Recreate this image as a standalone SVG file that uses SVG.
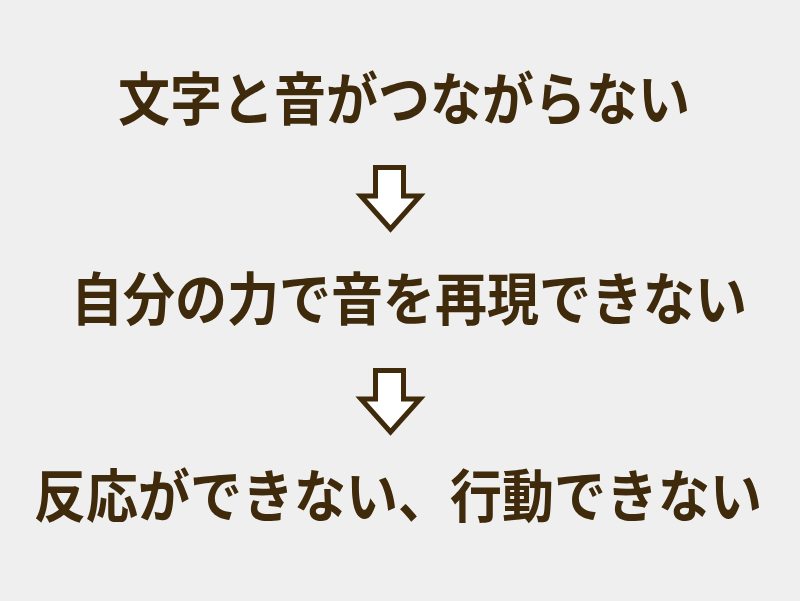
<svg xmlns="http://www.w3.org/2000/svg" width="800" height="601" viewBox="0 0 800 601">
<style>
.t{font-family:"Noto Sans CJK JP","Noto Sans CJK SC",sans-serif;font-weight:bold;fill:#3f2a0b;font-size:52px}
.a{fill:#ffffff;stroke:#3f2a0b;stroke-width:5;stroke-linejoin:miter}
</style>
<defs>
<path id="arr" class="a" d="M375.5,167.5 H403.5 V196 H420 L390.5,229 L361,196 H375.5 Z"/>
</defs>
<rect width="800" height="601" fill="#efefef"/>
<g id="node1"><text class="t" x="118" y="0" transform="translate(0,120) scale(1,1.1)">文字と音がつながらない</text></g>
<g id="node2"><text class="t" x="71" y="0" transform="translate(0,320) scale(1,1.1)">自分の力で音を再現できない</text></g>
<g id="node3"><text class="t" x="34" y="0" transform="translate(0,517) scale(1,1.1)">反応ができない、行動できない</text></g>
<g id="connectors">
<use href="#arr"/>
<use href="#arr" transform="translate(0,203)"/>
</g>
</svg>
